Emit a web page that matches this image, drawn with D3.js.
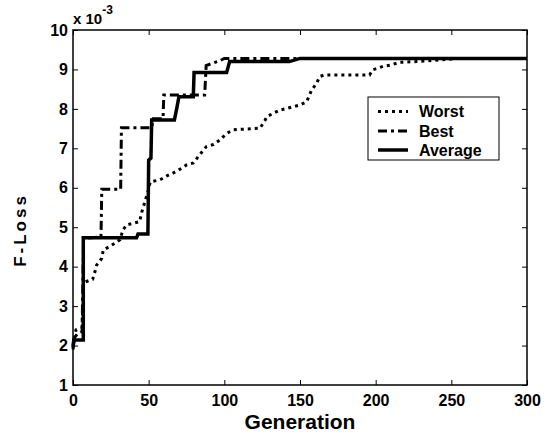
<!DOCTYPE html>
<html><head><meta charset="utf-8">
<script src="https://cdn.jsdelivr.net/npm/d3@7"></script>
<style>body{margin:0;background:#fff}svg{display:block}text{font-family:Arial,"Liberation Sans",sans-serif;font-weight:bold;fill:#000}</style>
</head><body>
<script>
const xTicks = [0, 50, 100, 150, 200, 250, 300];
const yTicks = [1, 2, 3, 4, 5, 6, 7, 8, 9, 10];
const seriesNames = ["Worst", "Best", "Average"];

const worstGen = [0,2,6,7,13,14.5,15.6,19,20,24,28,31,33,35.5,44,45.5,49.8,51,57.5,62,66,72,75,79.5,84,88,93,97,101.6,106,123.6,127,128,133,136.8,150,154.4,157.7,161,163,166,196,198,205,209.5,216,227,242.5,255,300];
const worstVal = [2.0,2.4,2.45,3.6,3.68,3.87,4.04,4.21,4.42,4.51,4.6,4.68,4.93,5.06,5.14,5.39,5.94,6.15,6.2,6.3,6.37,6.5,6.58,6.63,6.85,7.04,7.1,7.21,7.38,7.47,7.51,7.72,7.8,7.9,7.97,8.1,8.18,8.48,8.65,8.82,8.86,8.86,8.99,9.08,9.11,9.18,9.2,9.24,9.28,9.28];

const bestGen = [0,1,3,6,7,18.5,19,31.5,32,52,53,59.5,60,87,88,97,100,300];
const bestVal = [1.9,2.2,2.3,2.35,4.72,4.75,5.96,5.96,7.52,7.52,7.75,7.75,8.35,8.35,9.1,9.22,9.28,9.28];

const avgGen = [0,0.5,6.8,6.8,42,43,49.5,50,51.5,52,67,68.5,70,79.5,80,101.5,103.5,143,150,300];
const avgVal = [1.95,2.14,2.14,4.73,4.73,4.83,4.83,6.7,6.75,7.72,7.72,8.0,8.31,8.31,8.92,8.92,9.2,9.2,9.28,9.28];

const W = 547, H = 435;
const m = {left: 73, right: 527, top: 30, bottom: 385};
const svg = d3.select("body").append("svg").attr("width", W).attr("height", H);

const x = d3.scaleLinear().domain([0, 300]).range([m.left, m.right]);
const y = d3.scaleLinear().domain([1, 10]).range([m.bottom, m.top]);

const tickLen = 5;
const gx = svg.append("g").attr("transform", `translate(0,${m.bottom})`)
  .call(d3.axisBottom(x).tickValues(xTicks).tickSize(-tickLen).tickPadding(10).tickFormat(d3.format("d")));
const gxt = svg.append("g").attr("transform", `translate(0,${m.top})`)
  .call(d3.axisTop(x).tickValues(xTicks).tickSize(-tickLen).tickFormat(""));
const gy = svg.append("g").attr("transform", `translate(${m.left},0)`)
  .call(d3.axisLeft(y).tickValues(yTicks).tickSize(-tickLen).tickPadding(5).tickFormat(d3.format("d")));
const gyr = svg.append("g").attr("transform", `translate(${m.right},0)`)
  .call(d3.axisRight(y).tickValues(yTicks).tickSize(-tickLen).tickFormat(""));
[gx, gxt, gy, gyr].forEach(g => {
  g.select(".domain").remove();
  g.selectAll("line").attr("stroke", "#000").attr("stroke-width", 1);
  g.selectAll("text").style("font-size", "16px").style("font-weight", "bold")
    .style("font-family", "Arial, 'Liberation Sans', sans-serif").attr("fill", "#000");
});
gx.selectAll("text").attr("dy", "0.71em");

svg.append("rect").attr("x", m.left).attr("y", m.top)
  .attr("width", m.right - m.left).attr("height", m.bottom - m.top)
  .attr("fill", "none").attr("stroke", "#000").attr("stroke-width", 1.5);

// exponent label
const ex = svg.append("text").attr("x", m.left).attr("y", 24).style("font-size", "15px");
ex.append("tspan").text("x 10");
ex.append("tspan").attr("dy", -10).style("font-size", "12px").text("-3");

// x label
svg.append("text").attr("x", (m.left + m.right) / 2).attr("y", 429)
  .attr("text-anchor", "middle").style("font-size", "21px").text("Generation");

// y label
svg.append("text").attr("transform", "translate(26,230) rotate(-90)")
  .attr("text-anchor", "middle").style("font-size", "17px")
  .style("letter-spacing", "3px").text("F-Loss");

// lines
const styles = {
  Worst:   {dash: "3,4", w: 3},
  Best:    {dash: "9,4,3,4", w: 3},
  Average: {dash: null, w: 3.5}
};
const series = [
  {name: "Worst", gen: worstGen, val: worstVal},
  {name: "Best", gen: bestGen, val: bestVal},
  {name: "Average", gen: avgGen, val: avgVal}
];
const line = d3.line().x(d => x(d[0])).y(d => y(d[1]));
series.forEach(s => {
  const pts = s.gen.map((g, i) => [g, s.val[i]]);
  svg.append("path").datum(pts).attr("d", line)
    .attr("fill", "none").attr("stroke", "#000")
    .attr("stroke-width", styles[s.name].w)
    .attr("stroke-dasharray", styles[s.name].dash)
    .attr("stroke-linejoin", "miter");
});

// legend
const lg = svg.append("g");
lg.append("rect").attr("x", 368).attr("y", 97).attr("width", 131).attr("height", 63)
  .attr("fill", "#fff").attr("stroke", "#000").attr("stroke-width", 1);
const ly = [111.5, 131, 150];
seriesNames.forEach((n, i) => {
  lg.append("line").attr("x1", 378).attr("x2", 408).attr("y1", ly[i]).attr("y2", ly[i])
    .attr("stroke", "#000").attr("stroke-width", styles[n].w)
    .attr("stroke-dasharray", styles[n].dash);
  lg.append("text").attr("x", 419).attr("y", ly[i]).attr("dy", "0.36em")
    .style("font-size", "16px").text(n);
});
</script>
</body></html>
